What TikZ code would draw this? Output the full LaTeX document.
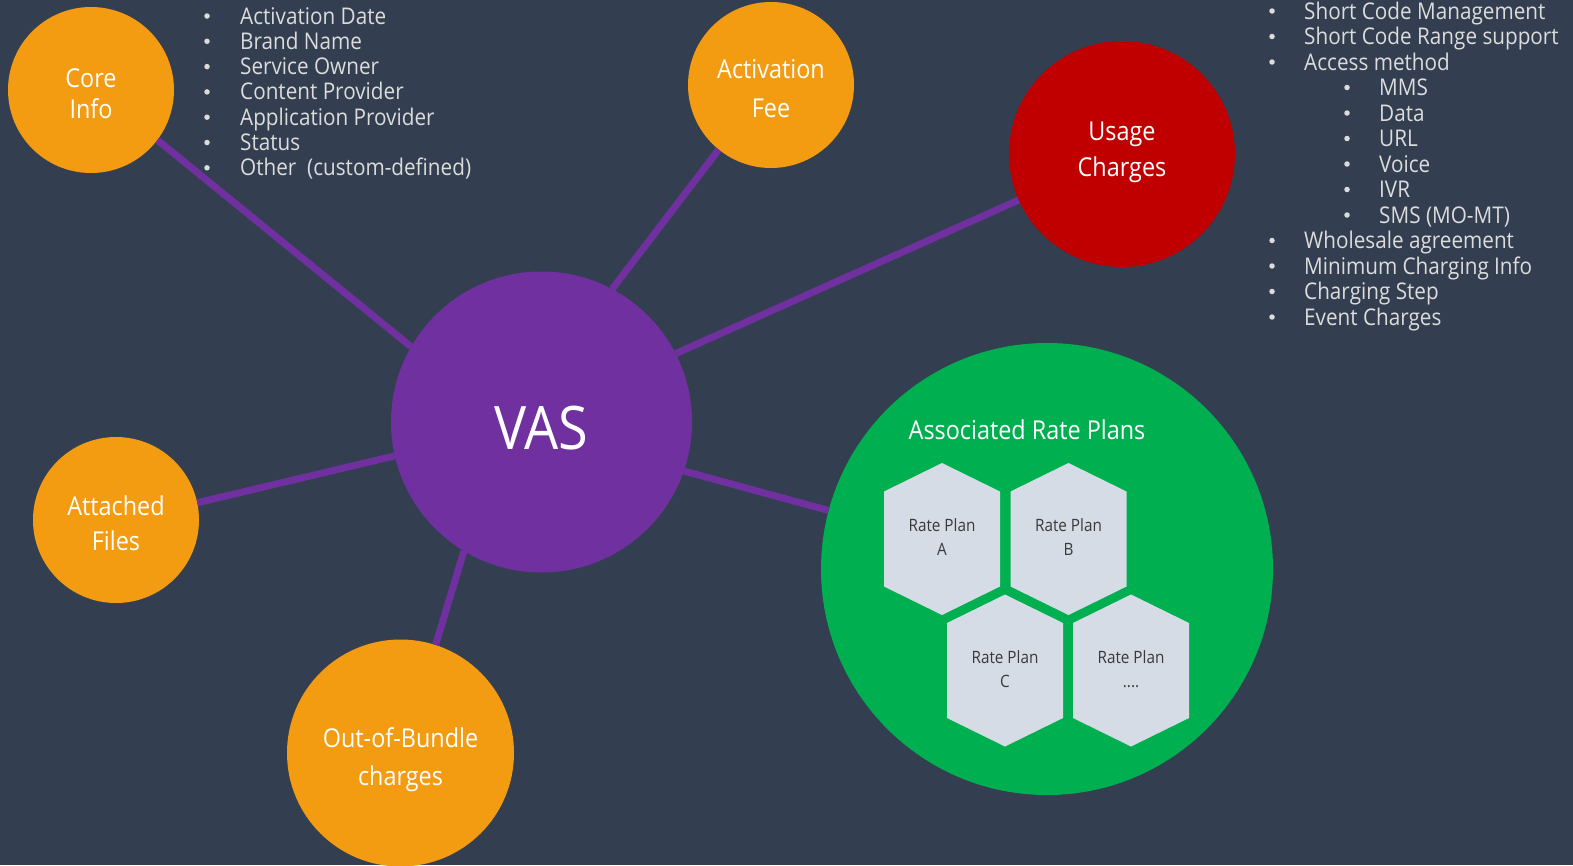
\documentclass[tikz,border=0pt]{standalone}
\usepackage{fontspec}
\setmainfont{Open Sans}[FakeStretch=0.9]
\usepackage{tikz}

\definecolor{bgslate}{HTML}{333F50}
\definecolor{vaspurple}{HTML}{7030A0}
\definecolor{infoorange}{HTML}{F39C12}
\definecolor{usagered}{HTML}{C00000}
\definecolor{plangreen}{HTML}{00B050}
\definecolor{hexgray}{HTML}{D6DCE5}
\definecolor{listgray}{HTML}{DCDCDC}
\definecolor{plantext}{HTML}{3A3A3A}

\tikzset{
  bubble/.style={circle,inner sep=0pt},
  bubbletext/.style={inner sep=0pt,text=white,align=center},
  link/.style={vaspurple,line width=7pt},
  listitem/.style={anchor=base west,inner sep=0pt,text=listgray,font=\fontsize{23}{25}\selectfont},
  listdot/.style={circle,inner sep=0pt,minimum size=5.5pt,fill=listgray},
  plantext/.style={inner sep=0pt,align=center,text=plantext,font=\fontsize{17}{24}\selectfont}
}

% one hexagon of the rate plan group
\newcommand{\rateplan}[4]{%
  \fill[hexgray] (#2,#3-76) -- (#2+58,#3-47.5) -- (#2+58,#3+47.5) -- (#2,#3+76)
    -- (#2-58,#3+47.5) -- (#2-58,#3-47.5) -- cycle;
  \node[plantext] (#1) at (#2,#3-1.5) {Rate Plan\\#4};
}

\begin{document}
\begin{tikzpicture}[x=1pt,y=-1pt]
    \useasboundingbox (0,0) rectangle (1573,865);
    \fill[bgslate] (0,0) rectangle (1573,865);

    % bubbles
    \node[bubble,fill=vaspurple,minimum size=301pt] (vas) at (541.5,422) {};
    \node[bubble,fill=infoorange,minimum size=166pt] (core) at (91,90) {};
    \node[bubble,fill=infoorange,minimum size=166pt] (fee) at (771,85) {};
    \node[bubble,fill=usagered,minimum size=226pt] (usage) at (1122,154) {};
    \node[bubble,fill=infoorange,minimum size=166pt] (files) at (116,520) {};
    \node[bubble,fill=infoorange,minimum size=227pt] (bundle) at (400.5,753) {};
    \node[bubble,fill=plangreen,minimum size=452pt] (plans) at (1047,569) {};

    \node[bubbletext,font=\fontsize{60}{60}\selectfont] (vas-text) at (541.5,428) {VAS};
    \node[bubbletext,font=\fontsize{26}{31}\selectfont] (core-text) at (91,94) {Core\\Info};
    \node[bubbletext,font=\fontsize{26}{39}\selectfont] (fee-text) at (771,89) {Activation\\Fee};
    \node[bubbletext,font=\fontsize{26}{36}\selectfont] (usage-text) at (1122,152) {Usage\\Charges};
    \node[bubbletext,font=\fontsize{26}{35}\selectfont] (files-text) at (116,523) {Attached\\Files};
    \node[bubbletext,font=\fontsize{26}{38}\selectfont] (bundle-text) at (400.5,760) {Out-of-Bundle\\charges};
    \node[bubbletext,font=\fontsize{26}{30}\selectfont,anchor=base] (plans-text) at (1027,439) {Associated Rate Plans};

    % links from VAS
    \draw[link] (vas.150.7) -- (core.-37.1);
    \draw[link] (vas.62.6) -- (fee.231.9);
    \draw[link] (vas.27) -- (usage.204.3);
    \draw[link] (vas.193.4) -- (files.12.4);
    \draw[link] (vas.239.1) -- (bundle.72.1);
    \draw[link] (vas.-19.9) -- (plans.165.4);

    % rate plans
    \rateplan{planA}{942}{539}{A}
    \rateplan{planB}{1068.5}{539}{B}
    \rateplan{planC}{1005}{670.5}{C}
    \rateplan{planD}{1131}{670.5}{....}

    % core info list
    \foreach \txt [count=\i from 0] in {Activation Date,Brand Name,Service Owner,Content Provider,Application Provider,Status,Other\ \ (custom-defined)} {
        \node[listdot] (coredot-\i) at (207,16+25.3*\i) {};
        \node[listitem] (coreitem-\i) at (240,24+25.3*\i) {\txt};
    }

    % usage charges list
    \foreach \lvl/\txt [count=\i from 0] in {0/Short Code Management,0/Short Code Range support,0/Access method,1/MMS,1/Data,1/URL,1/Voice,1/IVR,1/SMS (MO-MT),0/Wholesale agreement,0/Minimum Charging Info,0/Charging Step,0/Event Charges} {
        \node[listdot] (usedot-\i) at (1272+75*\lvl,11+25.5*\i) {};
        \node[listitem] (useitem-\i) at (1304+75*\lvl,19+25.5*\i) {\txt};
    }
\end{tikzpicture}
\end{document}
